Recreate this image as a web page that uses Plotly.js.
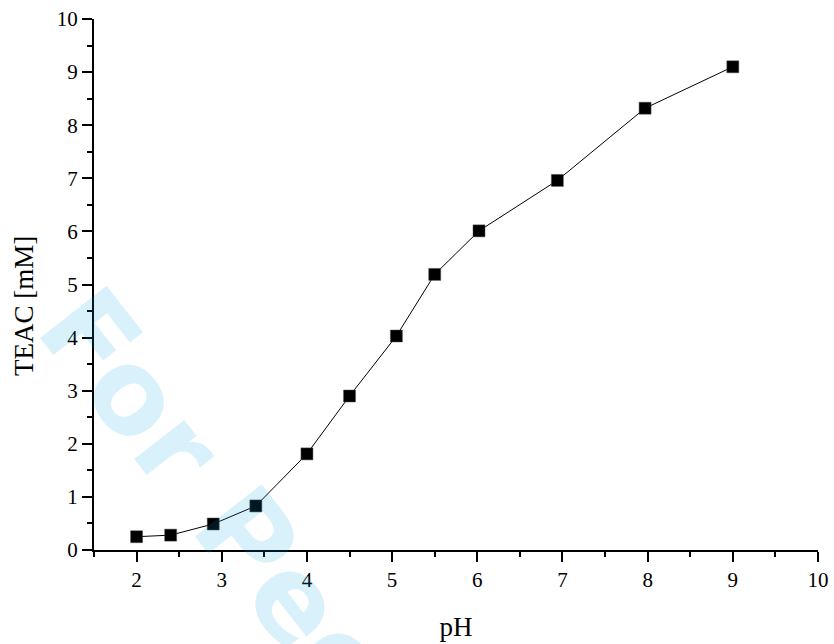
<!DOCTYPE html>
<html>
<head>
<meta charset="utf-8">
<script src="https://cdn.plot.ly/plotly-3.0.1.min.js"></script>
<style>html,body{margin:0;padding:0;background:#fff;}#chart{width:834px;height:644px;}</style>
</head>
<body>
<div id="chart"></div>
<script>
var pH = [2.0, 2.4, 2.9, 3.4, 4.0, 4.5, 5.05, 5.5, 6.02, 6.94, 7.97, 9.0];
var teac = [0.25, 0.28, 0.49, 0.83, 1.81, 2.9, 4.03, 5.19, 6.01, 6.96, 8.32, 9.10];
var xTitle = "pH";
var yTitle = "TEAC [mM]";
var watermark = "For Peer Review";

var serif = "Liberation Serif, Times New Roman, serif";

var trace = {
  x: pH, y: teac, type: "scatter", mode: "lines+markers",
  line: {color: "#000", width: 1},
  marker: {symbol: "square", size: 12, color: "#000", line: {color: "#555", width: 0.5}},
  cliponaxis: false, showlegend: false
};

var layout = {
  width: 834, height: 644,
  margin: {l: 94, r: 16, t: 19, b: 94},
  paper_bgcolor: "#fff", plot_bgcolor: "#fff",
  xaxis: {
    range: [1.5, 10], tick0: 0, dtick: 1, showgrid: false, zeroline: false,
    showline: true, linecolor: "#000", linewidth: 2,
    ticks: "outside", ticklen: 10, tickwidth: 2, tickcolor: "#000",
    minor: {dtick: 0.5, tick0: 0, ticks: "outside", ticklen: 5, tickwidth: 2, tickcolor: "#000", showgrid: false},
    tickfont: {family: serif, size: 21, color: "#000"},
    title: {text: xTitle, font: {family: serif, size: 27, color: "#000"}, standoff: 26}
  },
  yaxis: {
    range: [0, 10], tick0: 0, dtick: 1, showgrid: false, zeroline: false,
    showline: true, linecolor: "#000", linewidth: 2,
    ticks: "outside", ticklen: 10, tickwidth: 2, tickcolor: "#000",
    minor: {dtick: 0.5, tick0: 0, ticks: "outside", ticklen: 5, tickwidth: 2, tickcolor: "#000", showgrid: false},
    tickfont: {family: serif, size: 21, color: "#000"}
  },
  annotations: [
    {text: yTitle, xref: "paper", yref: "paper", x: -94/724, y: (550-306)/531,
     xanchor: "left", yanchor: "middle", textangle: -90, showarrow: false,
     xshift: 7, font: {family: serif, size: 27, color: "#000"}},
    {text: watermark, xref: "paper", yref: "paper", x: (392-94)/724, y: (550-722)/531,
     xanchor: "center", yanchor: "middle", textangle: 52, showarrow: false,
     font: {family: "DejaVu Sans", size: 116, weight: "bold", color: "rgba(0,160,230,0.15)"}}
  ]
};

Plotly.newPlot("chart", [trace], layout, {displayModeBar: false, staticPlot: true});
</script>
</body>
</html>
